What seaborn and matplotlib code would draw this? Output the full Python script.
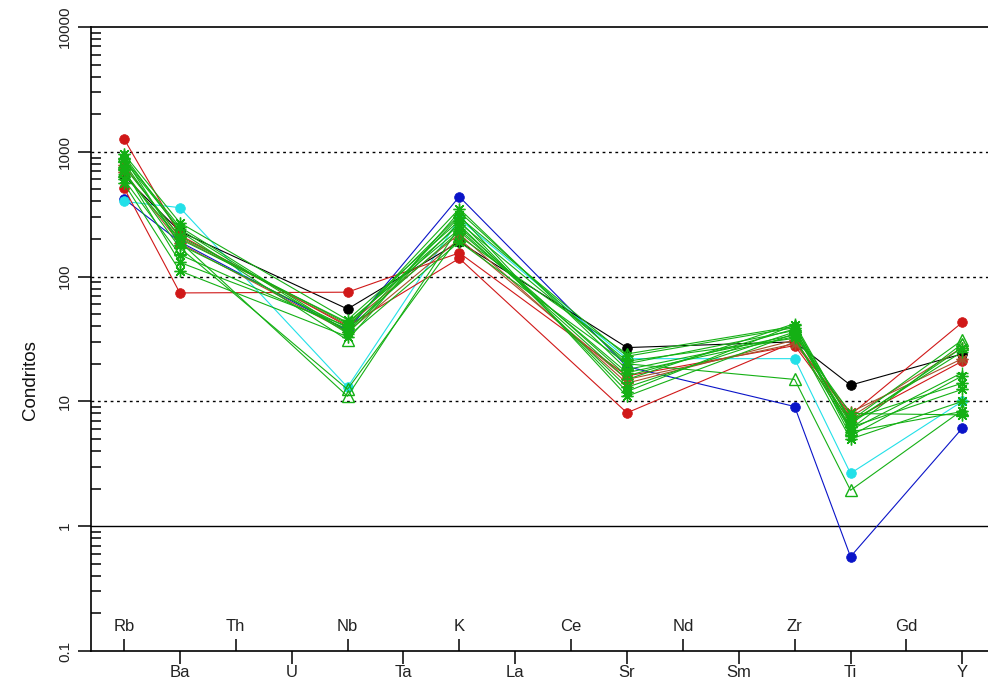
import numpy as np
import pandas as pd
import matplotlib
matplotlib.use("Agg")
import matplotlib.pyplot as plt
import seaborn as sns
from matplotlib.ticker import FixedLocator, FixedFormatter, LogLocator, NullFormatter

sns.set_theme(style="white")
plt.rcParams["font.family"] = ["Liberation Sans", "DejaVu Sans"]

# Spider diagram element order (position 1..16 along the x axis)
elements = ["Rb", "Ba", "Th", "U", "Nb", "Ta", "K", "La",
            "Ce", "Sr", "Nd", "Sm", "Zr", "Ti", "Gd", "Y"]
# Elements that carry analyses
analysed = ["Rb", "Ba", "Nb", "K", "Sr", "Zr", "Ti", "Y"]

# Chondrite-normalised values, one list per sample (order of `analysed`)
s_black = [640, 230, 55, 190, 27, 30, 13.5, 24]
s_red_a = [515, 74, 75, 155, 16, 28, 7.0, 21]
s_red_b = [1270, 215, 40, 140, 8.1, 30, 7.8, 43]
s_blue = [420, 190, 37, 437, 19, 9.1, 0.57, 6.1]
s_cyan = [400, 357, 13, 290, 22, 22, 2.65, 10]
s_brown_a = [780, 205, 41, 220, 14, 31, 7.5, 27]
s_brown_b = [690, 185, 36, 200, 15, 29, 8.2, 22]
s_g01 = [930, 230, 31, 330, 20, 15, 1.94, 8.5]
s_g02 = [820, 190, 11, 250, 16, 38, 6.0, 29]
s_g03 = [700, 170, 12.5, 210, 24, 40, 7.0, 31]
s_g04 = [880, 250, 36, 300, 23, 39, 5.3, 16]
s_g05 = [760, 210, 42, 260, 13, 36, 6.2, 12.5]
s_g06 = [600, 150, 38, 230, 17, 33, 5.0, 10]
s_g07 = [960, 270, 45, 280, 12, 41, 5.7, 8.3]
s_g08 = [560, 111, 33, 190, 20, 37, 7.2, 14]
s_g09 = [720, 130, 40, 310, 11, 35, 6.6, 27]
s_g10 = [850, 240, 35, 270, 21, 32, 5.9, 17]
s_g11 = [660, 200, 43, 240, 15, 42, 6.8, 25]
s_g12 = [900, 180, 39, 350, 18, 34, 8.0, 7.8]

y_ticks = [0.1, 1, 10, 100, 1000, 10000]
y_tick_labels = ["0.1", "1", "10", "100", "1000", "10000"]

GREEN = "#14b014"
ASTER = (8, 2, 0)

# (values, colour, marker, filled) in drawing order
samples = [
    (s_blue, "#0a14c8", "o", True),
    (s_cyan, "#22e0e8", "o", True),
    (s_black, "black", "o", True),
    (s_red_a, "#d01818", "o", True),
    (s_red_b, "#d01818", "o", True),
    (s_brown_a, "#a5522a", ASTER, False),
    (s_brown_b, "#a5522a", ASTER, False),
    (s_g01, GREEN, "^", False),
    (s_g02, GREEN, "^", False),
    (s_g03, GREEN, "^", False),
    (s_g04, GREEN, ASTER, False),
    (s_g05, GREEN, ASTER, False),
    (s_g06, GREEN, ASTER, False),
    (s_g07, GREEN, ASTER, False),
    (s_g08, GREEN, ASTER, False),
    (s_g09, GREEN, ASTER, False),
    (s_g10, GREEN, "+", False),
    (s_g11, GREEN, "+", False),
    (s_g12, GREEN, ASTER, False),
]

pos = {el: i + 1 for i, el in enumerate(elements)}
xpos = [pos[el] for el in analysed]

fig = plt.figure(figsize=(9.88, 6.81), dpi=100)
ax = fig.add_axes([91 / 988, 30 / 681, (988 - 91) / 988, 624 / 681])

for vals, col, mk, filled in samples:
    df = pd.DataFrame({"x": xpos, "y": vals})
    if filled:
        kw = dict(marker=mk, markersize=7, markeredgecolor=col,
                  markeredgewidth=0.5, markerfacecolor=col)
    else:
        kw = dict(marker=mk, markersize=8.5, markeredgecolor=col,
                  markeredgewidth=1.0, markerfacecolor="none")
    sns.lineplot(data=df, x="x", y="y", ax=ax, color=col, linewidth=0.8,
                 sort=False, estimator=None, legend=False, **kw)

ax.set_yscale("log")
ax.set_ylim(0.1, 10000)
ax.set_xlim(0.41, 16.46)

# horizontal reference lines
for v in [1000, 100, 10]:
    ax.axhline(v, color="black", lw=1.0, linestyle=(0, (2, 2.6)), zorder=0)
ax.axhline(1, color="black", lw=1.0, zorder=0)
ax.axhline(10000, color="black", lw=1.2, clip_on=False)

# spines
for side in ["top", "right"]:
    ax.spines[side].set_visible(False)
for side in ["left", "bottom"]:
    ax.spines[side].set_color("black")
    ax.spines[side].set_linewidth(1.2)

# y axis ticks
ax.yaxis.set_major_locator(FixedLocator(y_ticks))
ax.yaxis.set_major_formatter(FixedFormatter(y_tick_labels))
ax.yaxis.set_minor_locator(LogLocator(base=10, subs=np.arange(2, 10)))
ax.yaxis.set_minor_formatter(NullFormatter())
ax.tick_params(axis="y", which="major", direction="out", length=9.5, width=1.1,
               color="black", labelsize=11, pad=4, left=True)
ax.tick_params(axis="y", which="minor", direction="in", length=7.5, width=1.1,
               color="black", left=True)
for lab in ax.get_yticklabels():
    lab.set_rotation(90)
    lab.set_va("center")
    lab.set_ha("right")
    lab.set_color("#222222")

# x axis: alternating labels above (inside) and below the axis
up_el = elements[0::2]
down_el = elements[1::2]
ax.set_xticks([pos[e] for e in down_el], down_el)
ax.set_xticks([pos[e] for e in up_el], up_el, minor=True)
ax.tick_params(axis="x", which="major", direction="out", length=9, width=1.1,
               color="black", labelsize=12, pad=1.0, bottom=True)
ax.tick_params(axis="x", which="minor", direction="in", length=9, width=1.1,
               color="black", labelsize=12, pad=-23, bottom=True)
for lab in ax.get_xticklabels(minor=True) + ax.get_xticklabels():
    lab.set_color("#222222")

ax.set_xlabel("")
ax.set_ylabel("")
ax.grid(False)
fig.text(30 / 988, 1 - 380 / 681, "Condritos", rotation=90, ha="center",
         va="center", fontsize=13.5, color="#111111")

fig.savefig("out.png", dpi=100)
